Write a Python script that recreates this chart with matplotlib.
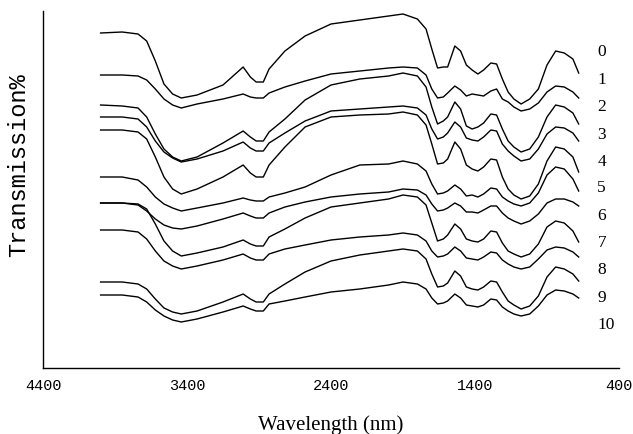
import numpy as np
import matplotlib
matplotlib.use("Agg")
import matplotlib.pyplot as plt

# wavenumber grid the traces were read on (4000 -> 680)
wave = [4000, 3850, 3740, 3680, 3620, 3560, 3500, 3440, 3330, 3150,
        3010, 2960, 2920, 2870, 2830, 2720, 2580, 2400, 2200, 2000,
        1900, 1800, 1740, 1700, 1660, 1620, 1590, 1540, 1500, 1460,
        1420, 1380, 1340, 1290, 1250, 1210, 1170, 1130, 1080, 1020,
        960, 900, 840, 780, 720, 680]

# stacked traces, read as depth below the top of the plot (offset units)
s0 = [34, 33, 35, 42, 62, 85, 95, 99, 96, 86, 68, 78, 83, 83, 70, 52, 37, 25, 21, 17,
      15, 20, 30, 50, 69, 68, 68, 47, 52, 66, 71, 75, 71, 64, 65, 80, 93, 100, 105, 100,
      90, 66, 52, 54, 60, 74]
s1 = [76, 76, 77, 81, 90, 100, 106, 109, 105, 100, 95, 98, 99, 99, 94, 88, 82, 75, 72, 69,
      68, 69, 76, 90, 99, 98, 94, 87, 91, 97, 95, 96, 97, 92, 90, 100, 103, 108, 112, 110,
      104, 93, 87, 88, 93, 99]
s2 = [106, 107, 109, 118, 135, 150, 158, 162, 158, 144, 132, 138, 142, 142, 133, 120, 101, 86, 80, 77,
      74, 77, 88, 108, 125, 122, 118, 103, 110, 127, 130, 128, 124, 115, 116, 130, 142, 148, 153, 150,
      138, 118, 106, 108, 114, 125]
s3 = [118, 118, 120, 128, 142, 153, 159, 163, 160, 152, 143, 149, 152, 152, 144, 134, 122, 112, 110, 108,
      107, 109, 116, 130, 140, 138, 134, 123, 128, 139, 141, 142, 138, 131, 132, 145, 152, 157, 162, 160,
      150, 135, 128, 129, 134, 142]
s4 = [131, 131, 133, 140, 158, 178, 190, 195, 190, 178, 166, 174, 178, 178, 166, 148, 128, 118, 116, 115,
      113, 116, 126, 145, 165, 164, 160, 143, 150, 166, 170, 172, 168, 160, 161, 178, 190, 196, 200, 197,
      185, 162, 148, 150, 158, 173]
s5 = [178, 178, 181, 188, 198, 205, 209, 212, 209, 204, 199, 201, 202, 202, 198, 194, 188, 176, 166, 165,
      162, 165, 172, 185, 195, 194, 192, 186, 190, 197, 196, 198, 195, 189, 190, 198, 202, 205, 207, 204,
      194, 176, 168, 170, 180, 192]
s6 = [204, 204, 206, 212, 220, 226, 229, 230, 227, 220, 214, 217, 219, 219, 214, 208, 203, 198, 195, 193,
      190, 191, 196, 205, 212, 211, 209, 204, 207, 213, 213, 214, 211, 207, 207, 214, 219, 222, 225, 222,
      215, 204, 200, 200, 203, 207]
s7 = [204, 204, 205, 210, 225, 242, 252, 257, 254, 248, 241, 245, 247, 247, 238, 230, 219, 208, 204, 200,
      196, 198, 206, 224, 242, 240, 236, 225, 230, 240, 242, 243, 240, 232, 233, 244, 252, 255, 258, 255,
      245, 228, 222, 224, 232, 243]
s8 = [231, 231, 233, 240, 252, 262, 267, 270, 267, 261, 255, 259, 261, 261, 255, 250, 246, 241, 238, 236,
      234, 236, 242, 252, 258, 257, 255, 248, 252, 259, 260, 261, 258, 253, 254, 261, 265, 268, 270, 268,
      260, 251, 248, 249, 253, 258]
s9 = [283, 283, 285, 290, 300, 309, 313, 315, 312, 303, 295, 300, 303, 303, 295, 285, 273, 262, 256, 252,
      250, 252, 260, 275, 288, 287, 284, 272, 277, 288, 290, 291, 288, 282, 283, 293, 302, 306, 310, 307,
      297, 278, 268, 270, 275, 282]
s10 = [296, 296, 298, 303, 311, 317, 321, 323, 320, 313, 307, 310, 312, 312, 305, 302, 298, 293, 290, 286,
       283, 285, 290, 299, 305, 304, 302, 295, 299, 306, 307, 308, 306, 300, 301, 308, 312, 315, 317, 315,
       307, 296, 291, 292, 295, 299]

series = [s0, s1, s2, s3, s4, s5, s6, s7, s8, s9, s10]
labels = [str(i) for i in range(11)]
label_y = [52, 80, 107, 135, 162, 188, 216, 243, 270, 298, 325]

fig = plt.figure(figsize=(6.33, 4.35), dpi=100)
ax = fig.add_axes([43 / 633, 1 - 369 / 435, 576 / 633, 357 / 435])

for s in series:
    ax.plot(wave, s, color="black", linewidth=1.0)

for lab, ly in zip(labels, label_y):
    ax.text(550, ly, lab, ha="left", va="center", fontsize=12.5,
            family="Liberation Serif", clip_on=False)

ax.set_xlim(4400, 400)
ax.set_ylim(369, 12)  # stacked offsets, top trace first
ax.set_xticks([4400, 3400, 2400, 1400, 400])
ax.set_xticklabels(["4400", "3400", "2400", "1400", "400"], family="Liberation Mono", fontsize=11)
ax.set_yticks([])
ax.tick_params(axis="x", length=0, pad=7)

for side in ["top", "right"]:
    ax.spines[side].set_visible(False)
for side in ["left", "bottom"]:
    ax.spines[side].set_linewidth(1.0)

ax.set_xlabel("Wavelength (nm)", family="Liberation Serif", fontsize=15)
ax.xaxis.set_label_coords(0.5, -0.13)
ax.set_ylabel("Transmission%", family="Liberation Mono", fontsize=17)
ax.yaxis.set_label_coords(-0.023, 0.57)

fig.savefig("out.png", dpi=100)
